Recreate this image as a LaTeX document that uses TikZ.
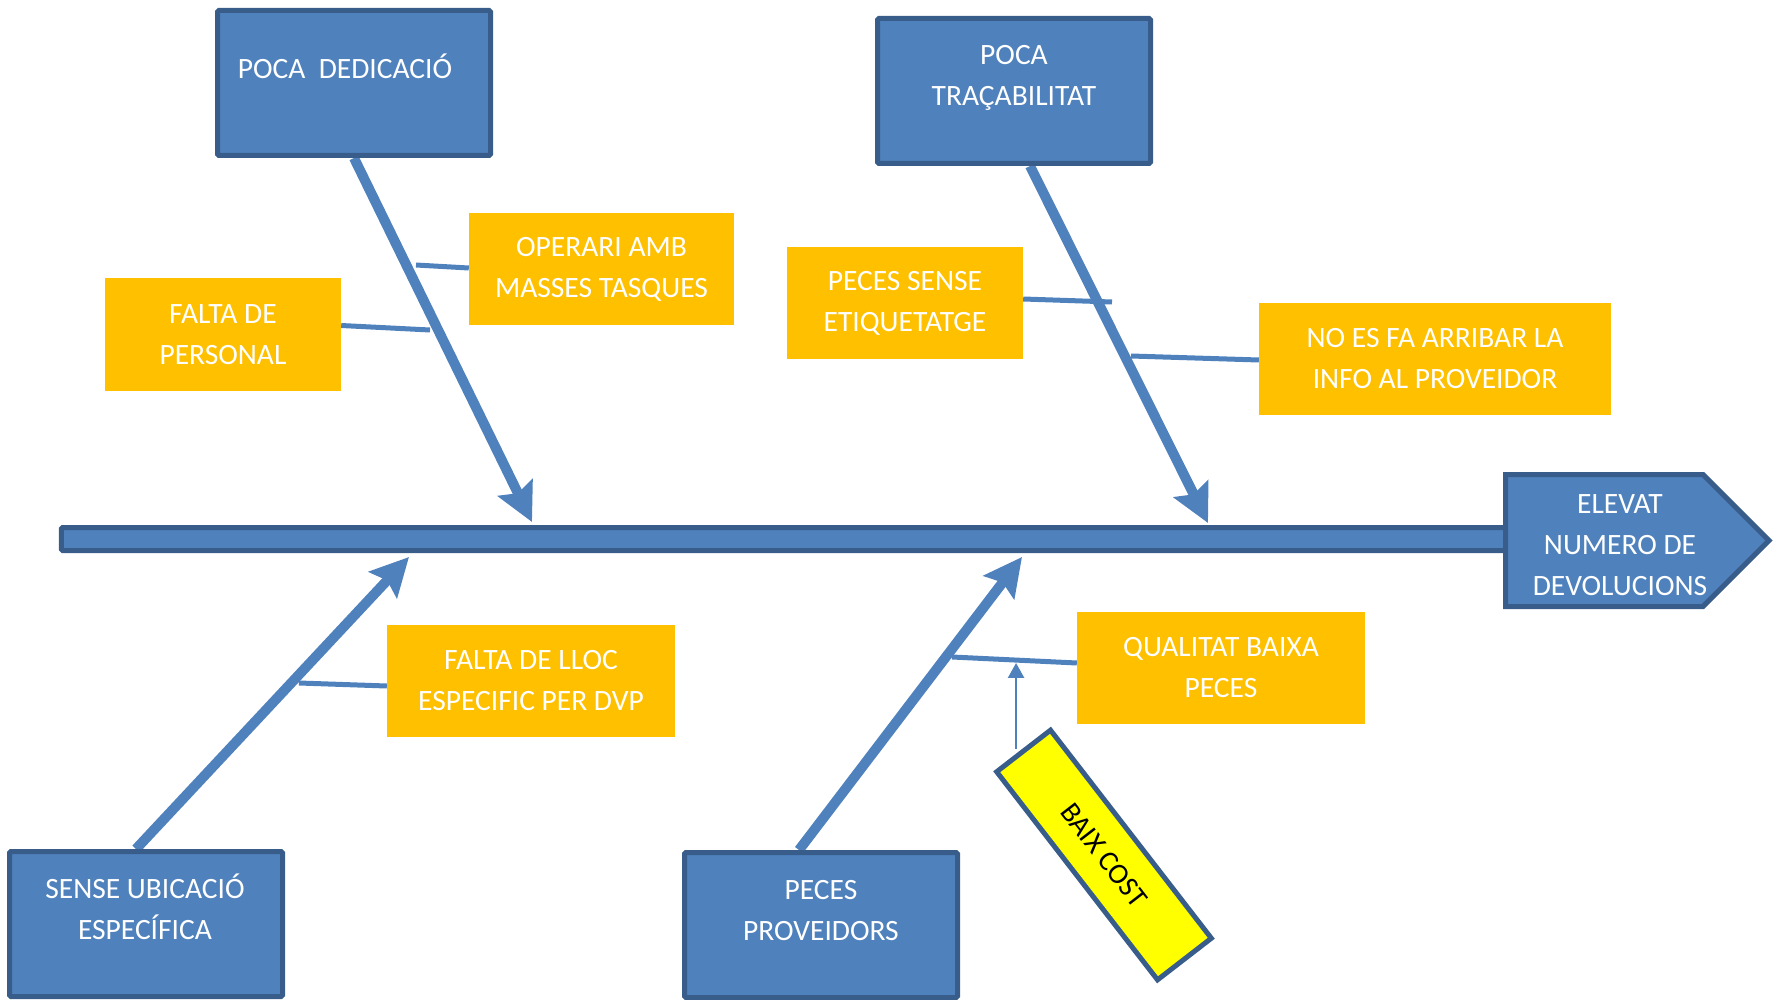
\documentclass[tikz,border=0pt]{standalone}
\usepackage{fontspec}
\setmainfont{Carlito}
\usetikzlibrary{arrows.meta,backgrounds}
\definecolor{boneblue}{HTML}{4F81BD}
\definecolor{edgeblue}{HTML}{385D8A}
\definecolor{subgold}{HTML}{FFC000}
\definecolor{notey}{HTML}{FFFF00}
\begin{document}
\begin{tikzpicture}[x=1pt,y=-1pt,
  causebox/.style={draw=edgeblue,fill=boneblue,line width=5pt,rounded corners=1.5pt,
    inner sep=0pt,minimum width=273pt,minimum height=145pt},
  captext/.style={text=white,font=\fontsize{29.5}{41}\selectfont,align=center,inner sep=0pt},
  subbox/.style={fill=subgold,text=white,font=\fontsize{29.5}{41}\selectfont,align=center,
    inner sep=0pt,minimum height=112pt},
  bone/.style={draw=boneblue,line width=10pt,-{Stealth[length=38pt,width=38pt,inset=6pt]}},
  twig/.style={draw=boneblue,line width=5pt},
  pointer/.style={draw=boneblue,line width=2.5pt,-{Triangle[length=15pt,width=16pt]}},
  notebox/.style={draw=edgeblue,fill=notey,line width=5pt,inner sep=0pt,
    minimum width=263pt,minimum height=68pt,font=\fontsize{29}{32}\selectfont}
]
\useasboundingbox (0,0) rectangle (1775,1000);

% spine and effect head
\node[draw=edgeblue,fill=boneblue,line width=5pt,rounded corners=1.5pt,inner sep=0pt,
  minimum width=1449pt,minimum height=23pt] (spine) at (785.75,539) {};
\draw[draw=edgeblue,fill=boneblue,line width=5pt]
  (1505.5,474.5) -- (1703,474.5) -- (1769,540.5) -- (1703,606.5) -- (1505.5,606.5) -- cycle;
\node[captext] (effect) at (1620,545) {ELEVAT\\NUMERO DE\\DEVOLUCIONS};

% main causes
\node[causebox] (dedic) at (354,83) {};
\node[captext] (dedictxt) at (345,66) {POCA\ \ DEDICACIÓ};
\node[causebox] (trac) at (1014,91) {};
\node[captext] (tractxt) at (1014,78) {POCA\\TRAÇABILITAT};
\node[causebox] (ubic) at (146,924) {};
\node[captext] (ubictxt) at (145,907) {SENSE UBICACIÓ\\ESPECÍFICA};
\node[causebox] (prov) at (821,925) {};
\node[captext] (provtxt) at (821,911) {PECES\\PROVEIDORS};

% secondary causes
\node[subbox,minimum width=265pt] (oper) at (601.5,269) {OPERARI AMB\\MASSES TASQUES};
\node[subbox,minimum width=236pt] (pers) at (223,334.5) {FALTA DE\\PERSONAL};
\node[subbox,minimum width=236pt] (etiq) at (905,303) {PECES SENSE\\ETIQUETATGE};
\node[subbox,minimum width=352pt] (info) at (1435,359) {NO ES FA ARRIBAR LA\\INFO AL PROVEIDOR};
\node[subbox,minimum width=288pt] (lloc) at (531,681) {FALTA DE LLOC\\ESPECIFIC PER DVP};
\node[subbox,minimum width=288pt] (qual) at (1221,668) {QUALITAT BAIXA\\PECES};

% root note
\node[notebox,rotate=-52.3] (cost) at (1104,855) {BAIX COST};

% tips and twig roots on the bones
\coordinate (tipA) at (532,522);
\coordinate (tipB) at (1208,523);
\coordinate (tipC) at (409,557);
\coordinate (tipD) at (1022,557);
\coordinate (operroot) at (416,265);
\coordinate (persroot) at (430,330);
\coordinate (etiqend) at (1112,302);
\coordinate (inforoot) at (1131,356);
\coordinate (llocroot) at (299,683);
\coordinate (qualroot) at (952,657);

\begin{scope}[on background layer]
  \draw[bone] (dedic.south) -- (tipA);
  \draw[bone] ([xshift=16pt]trac.south) -- (tipB);
  \draw[bone] ([xshift=-10pt]ubic.north) -- (tipC);
  \draw[bone] ([xshift=-22pt]prov.north) -- (tipD);
  \draw[twig] (operroot) -- ([yshift=1pt]oper.west);
  \draw[twig] ([yshift=9pt]pers.east) -- (persroot);
  \draw[twig] ([yshift=4pt]etiq.east) -- (etiqend);
  \draw[twig] (inforoot) -- ([yshift=-1pt]info.west);
  \draw[twig] (llocroot) -- ([yshift=-5pt]lloc.west);
  \draw[twig] (qualroot) -- ([yshift=5pt]qual.west);
  \draw[pointer] ([xshift=-6pt]cost.west) -- ++(0,-86);
\end{scope}
\end{tikzpicture}
\end{document}
